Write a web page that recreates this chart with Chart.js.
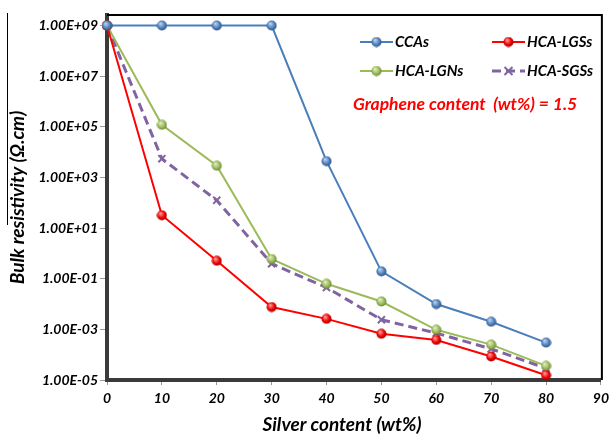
<!DOCTYPE html>
<html>
<head>
<meta charset="utf-8">
<script src="https://cdn.jsdelivr.net/npm/chart.js@4"></script>
<style>
  html, body { margin: 0; padding: 0; background: #fff; }
  #wrap { width: 614px; height: 435px; }
</style>
</head>
<body>
<div id="wrap"><canvas id="resChart" width="614" height="435"></canvas></div>
<script>
// silver content (wt%) on x
const silver = [0, 10, 20, 30, 40, 50, 60, 70, 80];

// bulk resistivity (ohm.cm) per sample type
const ccas    = [1e9, 1e9, 1e9, 1e9, 4.4e3, 0.195, 0.0100, 0.0020, 3.0e-4];
const hcaLgss = [1e9, 32, 0.51, 0.0076, 0.0026, 6.7e-4, 3.8e-4, 8.5e-5, 1.55e-5];
const hcaLgns = [1e9, 1.2e5, 2.9e3, 0.60, 0.063, 0.0126, 9.6e-4, 2.5e-4, 3.6e-5];
const hcaSgss = [1e9, 5.5e3, 125, 0.39, 0.045, 0.0024, 7.1e-4, 1.7e-4, 2.9e-5];

const seriesNames = ['CCAs', 'HCA-LGSs', 'HCA-LGNs', 'HCA-SGSs'];
const yTickExps = [9, 7, 5, 3, 1, -1, -3, -5];
const xTicks = [0, 10, 20, 30, 40, 50, 60, 70, 80, 90];

const FONT = 'Lato, "Open Sans", sans-serif';

// small shaded ball used as marker (excel style 3d look)
function makeBall(light, mid, dark) {
    const size = 11;
    const c = document.createElement('canvas');
    c.width = size; c.height = size;
    const g = c.getContext('2d');
    const grad = g.createRadialGradient(4, 3.5, 0.5, 5.5, 5.5, 6);
    grad.addColorStop(0, light);
    grad.addColorStop(0.55, mid);
    grad.addColorStop(1, dark);
    g.fillStyle = grad;
    g.beginPath();
    g.arc(5.5, 5.5, 5, 0, Math.PI * 2);
    g.fill();
    return c;
}

const blueBall = makeBall('#b8d0ee', '#4f81bd', '#22436b');
const redBall = makeBall('#ff9a9a', '#ee0000', '#8a0000');
const greenBall = makeBall('#e0ecc0', '#9bbb59', '#56702a');

function fmtExp(v) {
    const e = Math.round(Math.log10(v));
    const sign = e < 0 ? '-' : '+';
    const abs = Math.abs(e);
    return '1.00E' + sign + (abs < 10 ? '0' + abs : abs);
}

// legend, note, frame and stray border line
const decorPlugin = {
    id: 'decor',
    afterDraw(chart) {
        const ctx = chart.ctx;
        const area = chart.chartArea;
        ctx.save();

        // thin frame on top and right
        ctx.strokeStyle = '#000';
        ctx.lineWidth = 2;
        ctx.beginPath();
        ctx.moveTo(area.left, area.top);
        ctx.lineTo(area.right + 1, area.top);
        ctx.lineTo(area.right + 1, area.bottom);
        ctx.stroke();

        // stray vertical line at far left
        ctx.fillStyle = '#000';
        ctx.fillRect(7, 13, 1, 212);

        // legend in two columns
        chart.data.datasets.forEach((ds, i) => {
            const x = 360 + (i % 2) * 132;
            const y = 42 + Math.floor(i / 2) * 29;
            ctx.strokeStyle = ds.borderColor;
            ctx.lineWidth = ds.borderWidth;
            ctx.setLineDash(ds.borderDash || []);
            ctx.beginPath();
            ctx.moveTo(x, y);
            ctx.lineTo(x + 33, y);
            ctx.stroke();
            ctx.setLineDash([]);
            const mx = x + 16.5;
            if (ds.pointStyle instanceof HTMLCanvasElement) {
                ctx.drawImage(ds.pointStyle, mx - 5.5, y - 5.5);
            } else {
                ctx.lineWidth = 2;
                ctx.strokeStyle = ds.pointBorderColor;
                ctx.beginPath();
                ctx.moveTo(mx - 4, y - 4); ctx.lineTo(mx + 4, y + 4);
                ctx.moveTo(mx + 4, y - 4); ctx.lineTo(mx - 4, y + 4);
                ctx.stroke();
            }
            ctx.fillStyle = '#000';
            ctx.font = 'italic bold 15px ' + FONT;
            ctx.textAlign = 'left';
            ctx.textBaseline = 'middle';
            ctx.fillText(ds.label, x + 35, y);
        });

        // red note
        ctx.fillStyle = '#ff0000';
        ctx.font = 'italic bold 17.5px ' + FONT;
        ctx.textAlign = 'left';
        ctx.textBaseline = 'middle';
        ctx.fillText('Graphene content  (wt%) = 1.5', 353, 104);

        // x title
        ctx.fillStyle = '#000';
        ctx.font = 'italic bold 19px ' + FONT;
        ctx.textAlign = 'center';
        ctx.fillText('Silver content (wt%)', 342, 425);

        ctx.restore();
    }
};

new Chart(document.getElementById('resChart').getContext('2d'), {
    type: 'line',
    data: {
        datasets: [
            {
                label: seriesNames[0],
                data: silver.map((s, i) => ({ x: s, y: ccas[i] })),
                borderColor: '#4a7ebb',
                borderWidth: 2,
                pointStyle: blueBall,
                pointBorderColor: '#4a7ebb',
                clip: false
            },
            {
                label: seriesNames[1],
                data: silver.map((s, i) => ({ x: s, y: hcaLgss[i] })),
                borderColor: '#ff0000',
                borderWidth: 2,
                pointStyle: redBall,
                pointBorderColor: '#ff0000',
                clip: false
            },
            {
                label: seriesNames[2],
                data: silver.map((s, i) => ({ x: s, y: hcaLgns[i] })),
                borderColor: '#9bbb59',
                borderWidth: 2,
                pointStyle: greenBall,
                pointBorderColor: '#9bbb59',
                clip: false
            },
            {
                label: seriesNames[3],
                data: silver.map((s, i) => ({ x: s, y: hcaSgss[i] })),
                borderColor: '#8064a2',
                borderWidth: 3,
                borderDash: [9, 5],
                pointStyle: 'crossRot',
                pointRadius: 5,
                pointBorderWidth: 2,
                pointBorderColor: '#8064a2',
                clip: false
            }
        ]
    },
    options: {
        responsive: false,
        animation: false,
        layout: { padding: { top: 15, right: 8, left: 0, bottom: 0 } },
        elements: { line: { tension: 0, fill: false } },
        plugins: {
            legend: { display: false },
            tooltip: { enabled: false }
        },
        scales: {
            x: {
                type: 'linear',
                min: 0,
                max: 90,
                afterFit: s => { s.height = 55; },
                afterBuildTicks: s => { s.ticks = xTicks.map(v => ({ value: v })); },
                grid: { drawOnChartArea: false, drawTicks: true, tickLength: 5, color: '#999' },
                border: { display: true, color: '#3a3a3a', width: 4 },
                ticks: {
                    color: '#000',
                    padding: 5,
                    maxRotation: 0,
                    font: { family: FONT, size: 14, weight: 'bold', style: 'italic' }
                }
            },
            y: {
                type: 'logarithmic',
                min: 1e-5,
                max: Math.pow(10, 9.415),
                afterFit: s => { s.width = 107; },
                afterBuildTicks: s => { s.ticks = yTickExps.map(e => ({ value: Math.pow(10, e) })); },
                grid: { drawOnChartArea: false, drawTicks: true, tickLength: 7, color: '#999' },
                border: { display: true, color: '#3a3a3a', width: 4 },
                ticks: {
                    color: '#000',
                    padding: 2,
                    font: { family: FONT, size: 14, weight: 'bold', style: 'italic' },
                    callback: v => fmtExp(v)
                },
                title: {
                    display: true,
                    text: 'Bulk resistivity (Ω.cm)',
                    color: '#000',
                    padding: { top: 6 },
                    font: { family: FONT, size: 19, weight: 'bold', style: 'italic' }
                }
            }
        }
    },
    plugins: [decorPlugin]
});
</script>
</body>
</html>
